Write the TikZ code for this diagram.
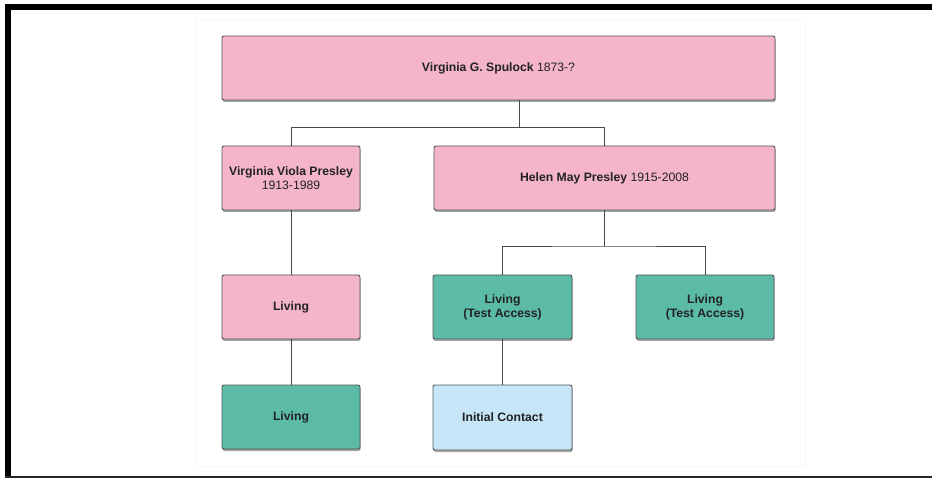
\documentclass[tikz,border=0pt]{standalone}
\usepackage{fontspec}
\setmainfont{Liberation Sans}
\usetikzlibrary{shadows}
\definecolor{pinkbox}{HTML}{F4B5C8}
\definecolor{greenbox}{HTML}{5CBBA7}
\definecolor{bluebox}{HTML}{C6E5F6}
\definecolor{boxline}{HTML}{555555}
\definecolor{txt}{HTML}{222222}
\definecolor{conn}{HTML}{4A4A4A}
\tikzset{
  famnode/.style={draw=boxline, line width=0.9pt, rounded corners=2pt,
    text=txt, align=center, inner sep=0pt,
    font=\fontsize{12.2}{14}\selectfont,
    drop shadow={shadow xshift=0.6pt, shadow yshift=-2pt, opacity=0.35, fill=black}},
  pinknode/.style={famnode, fill=pinkbox},
  greennode/.style={famnode, fill=greenbox},
  bluenode/.style={famnode, fill=bluebox},
  link/.style={draw=conn, line width=1pt}
}
\begin{document}
\begin{tikzpicture}[x=1pt,y=-1pt]
\useasboundingbox (0,0) rectangle (932,478);
\fill[white] (0,0) rectangle (932,478);
% faint background panel
\draw[black!3, line width=0.6pt] (195,19) rectangle (805,466);
% frame
\fill[black] (5,4) rectangle (932,10);
\fill[black] (5,4) rectangle (11,478);
\fill[black!85] (5,476) rectangle (932,478);

% nodes (minimum sizes in px)
\node[pinknode, minimum width=553pt, minimum height=64pt] (top) at (498.5,68) {\textbf{Virginia G. Spulock} 1873-?};
\node[pinknode, minimum width=138pt, minimum height=64pt] (vvp) at (291,178) {\textbf{Virginia Viola Presley}\\1913-1989};
\node[pinknode, minimum width=341pt, minimum height=64pt] (hmp) at (604.5,178) {\textbf{Helen May Presley} 1915-2008};
\node[pinknode, minimum width=138pt, minimum height=64pt] (liv1) at (291,307) {\textbf{Living}};
\node[greennode, minimum width=139pt, minimum height=64pt] (lta1) at (502.5,307) {\textbf{Living}\\\textbf{(Test Access)}};
\node[greennode, minimum width=138pt, minimum height=64pt] (lta2) at (705,307) {\textbf{Living}\\\textbf{(Test Access)}};
\node[greennode, minimum width=138pt, minimum height=64pt] (liv2) at (291,417) {\textbf{Living}};
\node[bluenode, minimum width=139pt, minimum height=65pt] (ic) at (502.5,417.5) {\textbf{Initial Contact}};

% junctions
\coordinate (j1) at (519,127.5);
\coordinate (j2) at (604.5,247);

% connectors
\draw[link] (j1 |- top.south) -- (j1);
\draw[link] (vvp.north) |- (j1) -| (hmp.north);
\draw[link] (hmp.south) -- (j2);
\draw[link] (lta1.north) |- (j2) -| (lta2.north);
\draw[link] (vvp.south) -- (liv1.north);
\draw[link] (liv1.south) -- (liv2.north);
\draw[link] (lta1.south) -- (ic.north);
\end{tikzpicture}
\end{document}
